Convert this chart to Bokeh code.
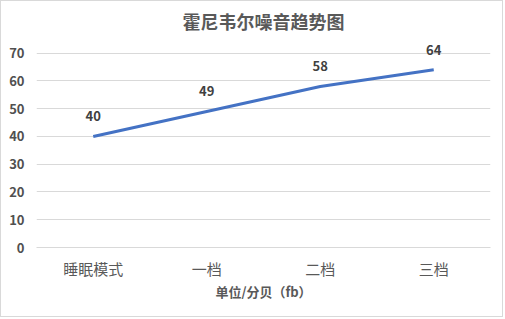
from bokeh.plotting import figure
from bokeh.models import Range1d, ColumnDataSource, FactorRange
from bokeh.embed import file_html
from bokeh.resources import INLINE
from bokeh.core.properties import value

title = "霍尼韦尔噪音趋势图"
categories = ["睡眠模式", "一档", "二档", "三档"]
noise = [40, 49, 58, 64]
y_ticks = [0, 10, 20, 30, 40, 50, 60, 70]
x_label = "单位/分贝（fb）"

FONT = "Noto Sans CJK SC"

p = figure(width=503, height=317, output_backend="svg", toolbar_location=None,
           x_range=FactorRange(*categories, range_padding=0),
           y_range=Range1d(0, 76),
           min_border_left=35, min_border_right=14, min_border_top=35, min_border_bottom=71)
p.styles = {"border": "1px solid #D9D9D9"}
p.outline_line_color = None
p.background_fill_color = "white"
p.border_fill_color = "white"

p.title.text = title
p.title.align = "center"
p.title.text_font = FONT
p.title.text_font_size = "18px"
p.title.text_font_style = "bold"
p.title.text_color = "#595959"
p.title.standoff = 6

src = ColumnDataSource(dict(x=categories, y=noise, t=[str(v) for v in noise]))
p.line("x", "y", source=src, line_color="#4472C4", line_width=3)
p.text("x", "y", text="t", source=src, text_font=value(FONT), text_font_size="13px",
       text_font_style="bold", text_color="#404040", text_align="center",
       text_baseline="middle", y_offset=-20)

p.yaxis.ticker = y_ticks
p.yaxis.axis_line_color = None
p.yaxis.major_tick_line_color = None
p.yaxis.minor_tick_line_color = None
p.yaxis.major_label_text_font = FONT
p.yaxis.major_label_text_font_size = "13px"
p.yaxis.major_label_text_font_style = "bold"
p.yaxis.major_label_text_color = "#505050"
p.yaxis.major_label_standoff = 6

p.xaxis.axis_line_color = "#D9D9D9"
p.xaxis.major_tick_line_color = None
p.xaxis.minor_tick_line_color = None
p.xaxis.major_label_text_font = FONT
p.xaxis.major_label_text_font_size = "15px"
p.xaxis.major_label_text_color = "#595959"
p.xaxis.major_label_standoff = 4
p.xaxis.axis_label = x_label
p.xaxis.axis_label_text_font = FONT
p.xaxis.axis_label_text_font_size = "13px"
p.xaxis.axis_label_text_font_style = "bold"
p.xaxis.axis_label_text_color = "#595959"
p.xaxis.axis_label_standoff = 0

p.xgrid.grid_line_color = None
p.ygrid.grid_line_color = "#D9D9D9"
p.ygrid.ticker = y_ticks

open("out.html", "w").write(file_html(p, INLINE))
